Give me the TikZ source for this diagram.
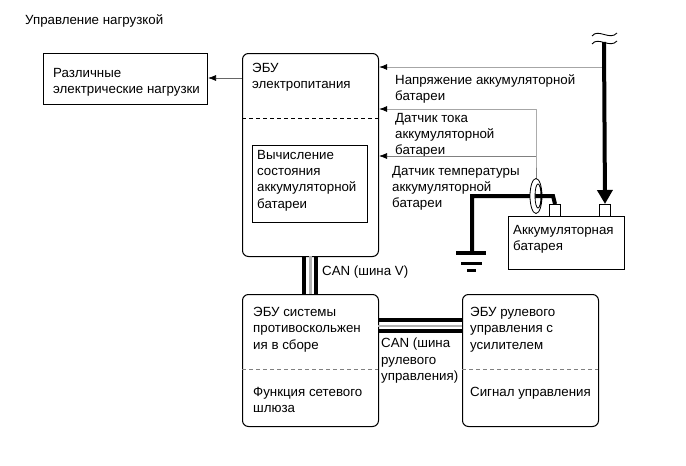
\documentclass[tikz,border=0pt]{standalone}
\usepackage{fontspec}
\setmainfont{Liberation Sans}
\usetikzlibrary{arrows.meta}
\tikzset{
  txt/.style={anchor=north west,align=left,inner sep=0pt,font=\fontsize{13.3}{16.3}\selectfont},
  sqbox/.style={draw,line width=1pt,rectangle,anchor=north west,inner sep=0pt},
  rbox/.style={sqbox,rounded corners=6pt},
  sep/.style={dashed,line width=0.6pt,dash pattern=on 4pt off 3pt},
  sig/.style={draw=gray!70,line width=1pt,-{Latex[length=8pt,width=6pt,black]}},
  bus/.style={line width=4pt},
  busmid/.style={line width=2.2pt,draw=gray!60},
  pwr/.style={line width=4pt}
}
\begin{document}
\begin{tikzpicture}[x=1pt,y=-1pt]
  \useasboundingbox (0,0) rectangle (686,466);
  \node[txt] (title) at (25,14) {Управление нагрузкой};
  % boxes
  \node[sqbox,minimum width=164pt,minimum height=51pt] (load) at (43,53) {};
  \node[rbox,minimum width=136pt,minimum height=203pt] (psu) at (242,53) {};
  \node[sqbox,minimum width=115pt,minimum height=77pt] (calc) at (252,145) {};
  \node[rbox,minimum width=136pt,minimum height=132pt] (pcs) at (242,294) {};
  \node[rbox,minimum width=136pt,minimum height=132pt] (eps) at (462,294) {};
  \node[sqbox,minimum width=116pt,minimum height=53pt] (batt) at (508,216) {};
  \node[sqbox,minimum width=11pt,minimum height=12pt] (neg) at (549,204) {};
  \node[sqbox,minimum width=11pt,minimum height=12pt] (pos) at (599,204) {};
  % separators
  \draw[sep] (242,118) -- (378,118);
  \draw[sep,draw=gray] (242,369) -- (378,369);
  \draw[sep,draw=gray] (462,369) -- (598,369);
  % box texts
  \node[txt] (loadtxt) at (53,68) {Различные\\электрические нагрузки};
  \node[txt] (psutxt) at (252,63) {ЭБУ\\электропитания};
  \node[txt] (calctxt) at (257,150) {Вычисление\\состояния\\аккумуляторной\\батареи};
  \node[txt] (pcstxt) at (253,307) {ЭБУ системы\\противоскольжен\\ия в сборе};
  \node[txt] (pcstxtb) at (253,387) {Функция сетевого\\шлюза};
  \node[txt] (epstxt) at (470,307) {ЭБУ рулевого\\управления с\\усилителем};
  \node[txt] (epstxtb) at (470,387) {Сигнал управления};
  \node[txt] (batttxt) at (513,225) {Аккумуляторная\\батарея};
  % labels
  \node[txt] (volt) at (395,74) {Напряжение аккумуляторной\\батареи};
  \node[txt] (curr) at (395,113) {Датчик тока\\аккумуляторной\\батареи};
  \node[txt] (temp) at (392,166) {Датчик температуры\\аккумуляторной\\батареи};
  \node[txt] (canv) at (322,266) {CAN (шина V)};
  \node[txt] (cans) at (381,338) {CAN (шина\\рулевого\\управления)};
  % signal lines
  \coordinate (top) at (604,42);
  \coordinate (vj) at (604,67);
  \coordinate (cj) at (536,109);
  \coordinate (tj) at (536,156);
  \draw[sig,draw=black!60,line width=0.7pt] (psu.west |- 0,78) -- (load.east |- 0,78);
  \draw[sig] (vj) -- (psu.east |- vj);
  \draw[sig] (cj) -- (psu.east |- cj);
  \draw[sig,draw=gray,line width=0.7pt] (tj) -- (psu.east |- tj);
  \draw[draw=gray,line width=0.7pt] (cj) -- (tj) -- (536,180);
  % buses
  \draw[bus] (304,256) -- (304,294);
  \draw[bus] (316,256) -- (316,294);
  \draw[busmid] (310.5,256) -- (310.5,294);
  \draw[bus] (378,320) -- (462,320);
  \draw[bus] (378,331) -- (462,331);
  \draw[busmid] (378,326) -- (462,326);
  % battery cables
  \draw[pwr,-{Triangle[length=14pt,width=15pt]}] (top) -- (pos.north);
  \draw[pwr,line join=miter] (neg.north) -- (553,196) -- (472,196) -- (472,253);
  \draw[line width=0.8pt,fill=white,even odd rule] (536,196) ellipse (6pt and 17.5pt) (538,196) ellipse (3pt and 12pt);
  \draw[pwr] (538,196) -- (553,196);
  \draw[line width=3.5pt] (456,253) -- (486,253);
  \draw[line width=3pt] (461,263) -- (482,263);
  \draw[line width=3pt] (467,270) -- (476,270);
  % cut mark
  \draw[line width=0.9pt] (592,36) .. controls (598,28) and (610,41) .. (617,33);
  \draw[line width=0.9pt] (592,44) .. controls (598,36) and (610,49) .. (617,41);
\end{tikzpicture}
\end{document}
